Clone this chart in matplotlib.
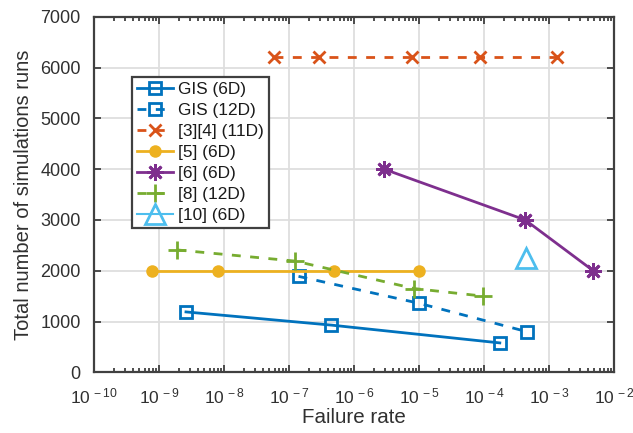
import numpy as np
import matplotlib.pyplot as plt
from matplotlib.ticker import LogLocator, FixedLocator, NullFormatter

plt.rcParams['font.family'] = ['Liberation Sans', 'DejaVu Sans']
plt.rcParams['mathtext.fontset'] = 'custom'
plt.rcParams['mathtext.rm'] = 'Liberation Sans'
plt.rcParams['mathtext.it'] = 'Liberation Sans:italic'

# data
gis6_x = [2.6e-9, 4.5e-7, 1.75e-4]
gis6_y = [1190, 930, 580]
gis12_x = [1.4e-7, 1.0e-5, 4.6e-4]
gis12_y = [1890, 1360, 800]
ref34_x = [5.9e-8, 2.9e-7, 7.7e-6, 8.7e-5, 1.35e-3]
ref34_y = [6200, 6200, 6200, 6200, 6200]
ref5_x = [7.7e-10, 8e-9, 4.9e-7, 1.0e-5]
ref5_y = [2000, 2000, 2000, 2000]
ref6_x = [2.9e-6, 4.3e-4, 4.8e-3]
ref6_y = [4000, 3000, 2000]
ref8_x = [1.9e-9, 1.25e-7, 8.4e-6, 9.8e-5]
ref8_y = [2410, 2190, 1650, 1500]
ref10_x = [4.5e-4]
ref10_y = [2260]

blue = '#0072BD'
orange = '#D95319'
yellow = '#EDB120'
purple = '#7E2F8E'
green = '#77AC30'
cyan = '#4DBEEE'
txt = '#303030'

fig = plt.figure(figsize=(6.33, 4.33), dpi=100)
ax = fig.add_axes([0.1485, 0.140, 0.8215, 0.8214])

lw = 2.0
ms = 9
dash = (3.2, 3.4)

ax.plot(gis6_x, gis6_y, '-', color=blue, lw=lw, marker='s', ms=ms,
        mfc='none', mew=lw, label='GIS (6D)')
ax.plot(gis12_x, gis12_y, '--', color=blue, lw=lw, marker='s', ms=ms,
        mfc='none', mew=lw, dashes=dash, label='GIS (12D)')
ax.plot(ref34_x, ref34_y, '--', color=orange, lw=lw, marker='x', ms=ms,
        mew=lw, dashes=dash, label='[3][4] (11D)')
ax.plot(ref5_x, ref5_y, '-', color=yellow, lw=lw, marker='o', ms=ms,
        mfc=yellow, mew=0, label='[5] (6D)')
ax.plot(ref6_x, ref6_y, '-', color=purple, lw=lw, marker=(8, 2, 0), ms=ms + 3,
        mew=lw, label='[6] (6D)')
ax.plot(ref8_x, ref8_y, '--', color=green, lw=lw, marker='+', ms=ms + 4,
        mew=lw, dashes=dash, label='[8] (12D)')
ax.plot(ref10_x, ref10_y, 'none', color=cyan, marker='^', ms=ms + 5,
        mfc='none', mew=lw, label='[10] (6D)')

ax.set_xscale('log')
ax.set_xlim(1e-10, 1e-2)
ax.set_ylim(0, 7000)
ax.set_yticks(np.arange(0, 7001, 1000))
decades = [1e-10, 1e-9, 1e-8, 1e-7, 1e-6, 1e-5, 1e-4, 1e-3, 1e-2]
ax.xaxis.set_major_locator(FixedLocator(decades))
ax.set_xticklabels([r'$10^{\,%d}$' % int(np.log10(d)) for d in decades])
ax.xaxis.set_minor_locator(LogLocator(base=10, subs=np.arange(2, 10), numticks=20))
ax.xaxis.set_minor_formatter(NullFormatter())

ax.grid(True, which='major', color='#dedede', lw=1.3)
ax.set_axisbelow(True)
ax.tick_params(which='both', direction='in', top=True, right=True,
               colors='#404040', labelcolor=txt, width=1.3)
ax.tick_params(which='major', length=5)
ax.tick_params(which='minor', length=3)
ax.tick_params(axis='x', pad=10.5, labelsize=12.5)
ax.tick_params(axis='y', pad=9.5, labelsize=13)
for s in ax.spines.values():
    s.set_color('#404040')
    s.set_linewidth(1.6)

ax.set_xlabel('Failure rate', fontsize=14.8, color=txt, labelpad=1)
ax.set_ylabel('Total number of simulations runs', fontsize=14.5, color=txt,
              labelpad=5)

leg = ax.legend(loc='upper left', bbox_to_anchor=(0.073, 0.830), fontsize=12.4,
                handlelength=2.1, handletextpad=0.3, borderaxespad=0,
                borderpad=0.3, labelspacing=0.34, fancybox=False, framealpha=1)
leg.get_frame().set_edgecolor('#404040')
leg.get_frame().set_linewidth(1.6)
for t in leg.get_texts():
    t.set_color('#1a1a1a')

fig.savefig('out.png', dpi=100)
